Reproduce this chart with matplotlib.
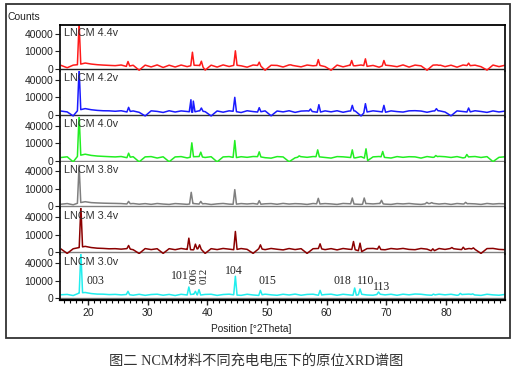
import numpy as np
import matplotlib
matplotlib.use('Agg')
import matplotlib.pyplot as plt
from matplotlib.patches import Rectangle
from matplotlib.ticker import FixedLocator, MultipleLocator

plt.rcParams['font.family'] = ['Liberation Sans', 'DejaVu Sans']

# ---------------- data ----------------
series_labels = ['LNCM 4.4v', 'LNCM 4.2v', 'LNCM 4.0v', 'LNCM 3.8v', 'LNCM 3.4v', 'LNCM 3.0v']
series_colors = ['#ff1a1a', '#1a1aff', '#22ee22', '#7f7f7f', '#8b0000', '#22eeee']
zero_colors = ['#222222', '#333333', '#808080', '#808080', '#808080', '#808080']

# peak positions [°2Theta] and heights [counts]
pk_pos_44 = [18.5, 26.7, 37.5, 39.0, 44.7, 48.7, 54.0, 58.6, 64.2, 66.5, 69.6, 78.8, 83.8]
pk_h_44 = [70000, 1750, 9000, 1900, 10600, 1450, 520, 2800, 2270, 3270, 2270, 400, 1050]
pk_pos_42 = [18.5, 26.8, 37.25, 37.65, 39.0, 44.6, 48.7, 57.3, 58.7, 64.3, 66.5, 69.6, 78.4, 83.8]
pk_h_42 = [70000, 1750, 7300, 6000, 1450, 9800, 1600, 1050, 3270, 2830, 3950, 2830, 1180, 1450]
pk_pos_40 = [18.5, 26.8, 37.4, 38.9, 44.6, 48.7, 55.4, 58.5, 64.3, 66.6, 69.4, 78.3, 83.5]
pk_h_40 = [70000, 1750, 10200, 2270, 13000, 2450, 700, 3700, 3700, 4450, 2650, 800, 1180]
pk_pos_38 = [18.5, 26.8, 37.3, 38.9, 44.6, 48.7, 58.6, 64.3, 66.3, 69.2, 76.8, 77.6, 83.3]
pk_h_38 = [55000, 800, 6400, 800, 9100, 1050, 2100, 2270, 2270, 1180, 500, 450, 520]
pk_pos_34 = [18.8, 26.8, 36.9, 38.0, 38.7, 44.7, 48.9, 58.9, 64.5, 65.6, 68.8, 77.8, 81.0, 82.9, 84.6]
pk_h_34 = [70000, 1450, 6400, 2100, 1750, 14000, 1750, 2270, 3700, 2650, 1180, 360, 700, 800, 600]
pk_pos_30 = [18.8, 26.7, 36.9, 38.0, 38.6, 44.7, 48.9, 58.9, 64.7, 65.6, 68.7, 77.9, 82.4, 84.5]
pk_h_30 = [70000, 1450, 3950, 1450, 2270, 15400, 1900, 1900, 3270, 2650, 1180, 500, 700, 550]

# background counts, read roughly every 1° from 15.5° to 89.5°
bg_44 = [380, 40, 450, 600, 1100, 750, 560, 460, 390, 330, 480, 150, 420, -60, 450, 120, 500, 60, 430, 110,
         470, 160, 420, 380, -50, 440, 100, 500, 180, 460, 300, 90, 480, 350, -60, 420, 380, 110, 500, 290,
         130, 470, 300, 420, 160, -60, 460, 130, 400, 300, 480, 200, 380, 90, 450, 310, 150, 500, 100, 460,
         290, -60, 450, 520, 160, 430, 90, 480, 300, 440, 150, -50, 470, 160, 420]
bg_42 = [420, 250, -50, 700, 1200, 800, 600, 500, 480, 380, 500, 230, 450, 180, -50, 480, 350, 160, 500, 230,
         460, 330, 180, 490, 300, -50, 450, 200, 480, 330, 150, 500, 310, 200, 470, -40, 440, 250, 500, 170,
         420, 480, 300, 150, 470, 260, 500, 190, 430, 460, -50, 240, 480, 330, 170, 470, 310, 220, 480, 520,
         430, 190, 440, 500, 230, -40, 470, 320, 190, 500, 330, 170, 460, 240, 420]
bg_40 = [300, 450, -60, 800, 1300, 850, 650, 560, 480, 420, 520, 250, 470, -60, 430, 500, 200, 450, -50, 420,
         500, 220, 460, 520, 300, 470, -60, 420, 500, 230, 470, 330, 520, 480, 260, 180, 500, 420, -50, 240,
         480, 330, 510, 440, 300, 190, 500, 440, 320, 220, 480, -50, 430, 520, 300, 200, 500, 330, 470, 430,
         190, 510, 320, 560, 470, 300, 500, 220, 440, 520, 300, 490, -40, 330, 450]
bg_38 = [150, 250, 80, 400, 700, 450, 380, 330, 300, 280, 250, 180, 260, 150, 240, 130, 260, 170, 120, 250,
         190, 130, 260, 170, 240, 110, 200, 270, 160, 130, 250, 180, 260, 120, 210, 250, 140, 280, 170, 240,
         200, 120, 260, 170, 250, 190, 120, 270, 220, 160, 120, 250, 190, 270, 160, 120, 250, 190, 270, 170,
         120, 240, 290, 170, 250, 120, 260, 180, 240, 200, 120, 270, 170, 240, 200]
bg_34 = [300, -50, 380, 700, 1100, 700, 520, 460, 370, 400, 300, 420, 200, -60, 420, 220, 390, -50, 400, 200,
         450, 250, 180, 430, -50, 400, 220, 450, 300, 170, 430, 260, -50, 420, 210, 450, 280, 170, 430, 220,
         400, -50, 390, 450, 210, 410, 170, 440, 280, 200, -40, 420, 460, 250, 190, 440, 300, 460, 250, 200,
         450, 300, -40, 440, 250, 460, 300, 190, 440, 250, -50, 420, 460, 250, 200]
bg_30 = [350, 420, 200, 800, 1000, 650, 500, 480, 380, 430, 320, 420, 250, 450, 230, 400, 470, 250, 420, 200,
         450, 300, 480, 250, 420, 460, 220, 400, 480, 300, 230, 460, 300, 210, 480, 330, 240, 460, 300, 500,
         250, 420, 470, 220, 400, 480, 240, 460, 320, 210, 470, 300, 250, 500, 320, 460, 240, 480, 330, 520,
         460, 300, 240, 480, 330, 460, 240, 420, 500, 300, 220, 460, 320, 250, 420]

peak_positions = [pk_pos_44, pk_pos_42, pk_pos_40, pk_pos_38, pk_pos_34, pk_pos_30]
peak_heights = [pk_h_44, pk_h_42, pk_h_40, pk_h_38, pk_h_34, pk_h_30]
backgrounds = [bg_44, bg_42, bg_40, bg_38, bg_34, bg_30]

# Miller index annotations for the 3.0 V pattern
hkl_text = ['003', '101', '006', '012', '104', '015', '018', '110', '113']
hkl_x = [19.8, 33.9, 37.85, 39.45, 43.0, 48.6, 61.2, 65.0, 67.7]
hkl_y = [6400, 11800, 6400, 6400, 18800, 6400, 6400, 6400, 2090]
hkl_rot = [0, 0, 90, 90, 0, 0, 0, 0, 0]
hkl_size = [8.5, 8.5, 7.8, 7.8, 8.5, 8.5, 8.5, 8.5, 8.5]

ytick_vals = [0, 10000, 40000]
HW = 0.28  # half width of drawn peak base (degrees)


def build(bg, pos, hts):
    bx = np.linspace(15.5, 89.9, len(bg))
    by = np.asarray(bg, float)
    keep = np.ones(len(bx), bool)
    for p in pos:
        keep &= np.abs(bx - p) > HW
    xs = list(bx[keep])
    ys = list(by[keep])
    for p, h in zip(pos, hts):
        for dx in (-HW, HW):
            xs.append(p + dx)
            ys.append(float(np.interp(p + dx, bx, by)))
        xs.append(p)
        ys.append(h)
    order = np.argsort(xs)
    return np.array(xs)[order], np.array(ys)[order]


def fwd(y):
    y = np.asarray(y, float)
    return np.sign(y) * np.sqrt(np.abs(y))


def inv(y):
    y = np.asarray(y, float)
    return np.sign(y) * y ** 2


W, H = 519, 373
fig = plt.figure(figsize=(W / 100, H / 100), dpi=100)
L, R, T, B = 60, 505, 25, 300
ph = (B - T) / 6

axes = []
for i in range(6):
    top = T + i * ph
    ax = fig.add_axes([L / W, 1 - (top + ph) / H, (R - L) / W, ph / H])
    ax.set_facecolor('none')
    ax.set_yscale('function', functions=(fwd, inv))
    x, y = build(backgrounds[i], peak_positions[i], peak_heights[i])
    ax.axhline(0, color=zero_colors[i], lw=1.0, zorder=1)
    ax.plot(x, y, color=series_colors[i], lw=1.1, zorder=2)
    ax.set_xlim(15.3, 89.9)
    ax.set_ylim(-130, 62750)
    ax.yaxis.set_major_locator(FixedLocator(ytick_vals))
    ax.yaxis.set_minor_locator(FixedLocator([]))
    ax.set_yticklabels([str(v) for v in ytick_vals])
    ax.tick_params(axis='y', direction='out', length=3.6, width=0.8, pad=1.2,
                   labelsize=7.5, colors='#222222')
    for s in ['left', 'right']:
        ax.spines[s].set_linewidth(1.3)
        ax.spines[s].set_color('#111111')
    ax.spines['top'].set_visible(i == 0)
    ax.spines['bottom'].set_visible(i == 5)
    ax.spines['top'].set_linewidth(1.3)
    ax.spines['bottom'].set_linewidth(1.6)
    if i < 5:
        ax.tick_params(axis='x', which='both', bottom=False, labelbottom=False)
    else:
        ax.xaxis.set_major_locator(MultipleLocator(10))
        ax.xaxis.set_minor_locator(MultipleLocator(1))
        ax.tick_params(axis='x', which='major', direction='out', length=3.6, width=1.0,
                       pad=2.5, labelsize=7.5, colors='#222222')
        ax.tick_params(axis='x', which='minor', direction='out', length=1.8, width=0.8)
    ax.text(0.008, 1 - 2.5 / ph, series_labels[i], transform=ax.transAxes,
            ha='left', va='top', fontsize=7.8, color='#333333')
    axes.append(ax)

axb = axes[-1]
for t, xx, yy, rr, fs in zip(hkl_text, hkl_x, hkl_y, hkl_rot, hkl_size):
    if rr == 0:
        axb.text(xx, yy, t, ha='left', va='baseline', fontsize=fs,
                 family='Liberation Serif', color='#222222', zorder=3)
    else:
        axb.text(xx, yy, t, ha='center', va='bottom', rotation=rr, fontsize=fs,
                 family='Liberation Serif', color='#222222', zorder=3)

fig.text(7 / W, 1 - 17 / H, 'Counts', ha='left', va='center', fontsize=7.5, color='#222222')
fig.text(251 / W, 1 - 329 / H, 'Position [°2Theta]', ha='center', va='center',
         fontsize=7.3, color='#222222')

fig.add_artist(Rectangle((6 / W, 1 - 338 / H), (510 - 6) / W, (338 - 4) / H,
                         transform=fig.transFigure, fill=False, lw=1.3, ec='#333333'))

fig.text(256 / W, 1 - 360 / H, '图二 NCM材料不同充电电压下的原位XRD谱图', ha='center', va='center',
         fontsize=10.3, color='#333333', family=['Liberation Serif', 'Noto Sans CJK SC'])

fig.savefig('out.png', dpi=100)
